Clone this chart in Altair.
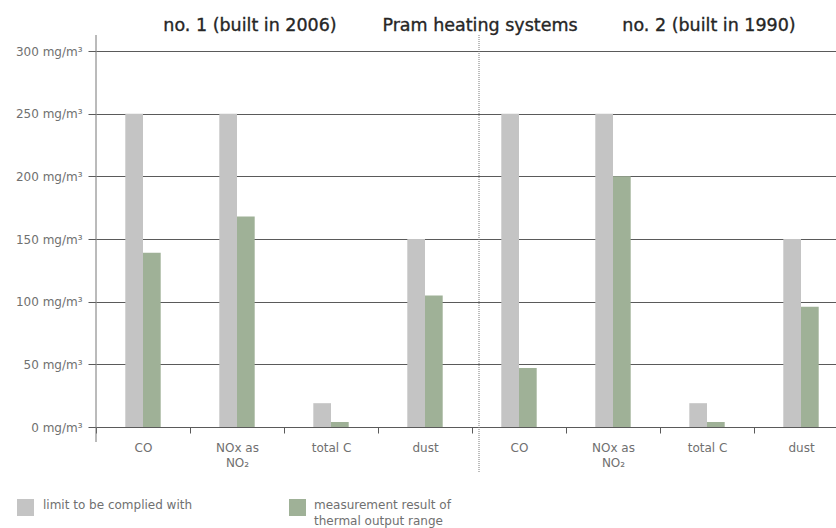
import altair as alt
import pandas as pd

# Emission measurements of two Pram heating systems (mg/m³)
systems = ["no. 1", "no. 2"]
pollutants = ["CO", "NOx as\nNO₂", "total C", "dust"]
series = ["limit to be complied with", "measurement result of thermal output range"]
limit_no1 = [250, 250, 19, 150]
measured_no1 = [139, 168, 4, 105]
limit_no2 = [250, 250, 19, 150]
measured_no2 = [47, 200, 4, 96]
y_ticks = [0, 50, 100, 150, 200, 250, 300]
bar_colors = ["#c4c4c4", "#9fb197"]

FONT = "DejaVu Sans"
LABEL = "#707070"
LINE = "#5a5a5a"

rows = []
for system, limits, measured in [("no. 1", limit_no1, measured_no1),
                                  ("no. 2", limit_no2, measured_no2)]:
    for p, lim, meas in zip(pollutants, limits, measured):
        slot = f"{system}|{p}"
        rows.append(dict(slot=slot, series=series[0], value=lim))
        rows.append(dict(slot=slot, series=series[1], value=meas))
df = pd.DataFrame(rows)
slots = list(dict.fromkeys(df["slot"]))

bars = alt.Chart(df).mark_bar().encode(
    x=alt.X(
        "slot:N",
        sort=slots,
        scale=alt.Scale(range=[0, 752], paddingInner=0, paddingOuter=0),
        axis=alt.Axis(
            title=None,
            labelExpr="isString(datum.value) ? split(split(datum.value, '|')[1], '\\n') : ''",
            labelAngle=0,
            labelFont=FONT,
            labelFontSize=12,
            labelColor=LABEL,
            labelLineHeight=15,
            labelPadding=9,
            tickBand="extent",
            tickSize=6,
            tickColor=LINE,
            domainColor=LINE,
            grid=False,
        ),
    ),
    # pair of bars sits in the middle of each 94 px band
    xOffset=alt.XOffset(
        "series:N", sort=series,
        scale=alt.Scale(range=[29.3, 64.7], paddingInner=0, paddingOuter=0),
    ),
    y=alt.Y(
        "value:Q",
        scale=alt.Scale(domain=[0, 300]),
        axis=alt.Axis(
            title=None,
            values=y_ticks,
            labelExpr="datum.value + ' mg/m³'",
            labelFont=FONT,
            labelFontSize=12,
            labelColor=LABEL,
            labelPadding=6,
            tickSize=8,
            tickColor=LINE,
            grid=True,
            gridColor=LINE,
            domain=False,
        ),
    ),
    color=alt.Color(
        "series:N", sort=series,
        scale=alt.Scale(domain=series, range=bar_colors),
        legend=None,
    ),
)

one = alt.Data(values=[{}])

# vertical axis line, running past the plot at both ends
y_line = alt.Chart(one).mark_rule(color="#777777", strokeWidth=1).encode(
    x=alt.value(0), y=alt.value(-16), y2=alt.value(391)
)

# dotted separator between the two systems
separator = alt.Chart(one).mark_rule(
    color="#7a7a7a", strokeWidth=1, strokeDash=[1, 1]
).encode(x=alt.value(383), y=alt.value(-16), y2=alt.value(422))


def heading(text, x):
    return alt.Chart(one).mark_text(
        font=FONT, fontSize=17.5, color="#262626",
        stroke="#262626", strokeWidth=0.35,
        align="center", baseline="alphabetic",
    ).encode(x=alt.value(x), y=alt.value(-20.5), text=alt.value(text))


headings = [
    heading("no. 1 (built in 2006)", 154),
    heading("Pram heating systems", 384),
    heading("no. 2 (built in 1990)", 613),
]

# legend
swatch1 = alt.Chart(one).mark_square(size=289, color=bar_colors[0], opacity=1).encode(
    x=alt.value(-70.5), y=alt.value(456.5)
)
swatch2 = alt.Chart(one).mark_square(size=289, color=bar_colors[1], opacity=1).encode(
    x=alt.value(201.5), y=alt.value(456.5)
)
legend_text1 = alt.Chart(one).mark_text(
    font=FONT, fontSize=12, color=LABEL, align="left", baseline="alphabetic"
).encode(x=alt.value(-53), y=alt.value(458), text=alt.value(series[0]))
legend_text2 = alt.Chart(one).mark_text(
    font=FONT, fontSize=12, color=LABEL, align="left", baseline="alphabetic",
    lineHeight=16.7,
).encode(
    x=alt.value(218), y=alt.value(457.5),
    text=alt.value(["measurement result of", "thermal output range"]),
)

chart = alt.layer(
    bars, y_line, separator, *headings, swatch1, swatch2, legend_text1, legend_text2
).properties(
    width=740,
    height=376,
    autosize=alt.AutoSizeParams(type="none"),
    padding={"left": 96, "top": 51, "right": 0, "bottom": 101},
).configure(
    font=FONT,
).configure_view(
    stroke=None,
)

chart.save("out.html", embed_options={"renderer": "svg", "actions": False})
